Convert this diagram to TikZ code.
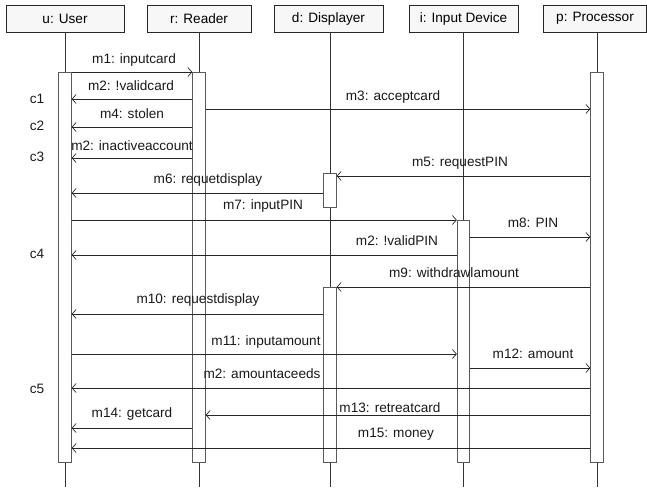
\documentclass[tikz,border=0pt]{standalone}
\usepackage{fontspec}
\setmainfont{Liberation Sans}
\usetikzlibrary{arrows.meta}
\begin{document}
\begin{tikzpicture}[x=1pt,y=-1pt,
  font=\fontsize{13.6pt}{16pt}\selectfont,
  head/.style={draw=black!85,fill=black!3,line width=0.8pt,minimum height=27pt,inner sep=0pt},
  act/.style={draw=black!65,fill=white,line width=0.8pt,minimum width=12.5pt,inner sep=0pt},
  life/.style={draw=black!80,line width=0.8pt},
  msg/.style={draw=black!85,line width=0.7pt,-{Straight Barb[length=4pt,width=9pt,line width=0.7pt]}},
  lbl/.style={inner sep=0pt,text=black!90},
  cnd/.style={inner sep=0pt,text=black!90}]
\useasboundingbox (0,0) rectangle (647,487);
% headers
\node[head,minimum width=118pt] (hu) at (65,18.5) {u: User};
\node[head,minimum width=104pt] (hr) at (199,18.5) {r: Reader};
\node[head,minimum width=109pt] (hd) at (328.5,18.5) {d: Displayer};
\node[head,minimum width=109pt] (hi) at (463.5,18.5) {i: Input Device};
\node[head,minimum width=103pt] (hp) at (595,18.5) {p: Processor};
% lifeline bottom ends
\coordinate (eu) at (65,487);
\coordinate (er) at (199,487);
\coordinate (ed) at (330,487);
\coordinate (ei) at (463.5,487);
\coordinate (ep) at (597,487);
\draw[life] (hu.south -| eu) -- (eu);
\draw[life] (hr.south -| er) -- (er);
\draw[life] (hd.south -| ed) -- (ed);
\draw[life] (hi.south -| ei) -- (ei);
\draw[life] (hp.south -| ep) -- (ep);
% activations
\node[act,minimum height=390pt] (au) at (65,267) {};
\node[act,minimum height=390pt] (ar) at (199,267) {};
\node[act,minimum height=390pt] (ap) at (597,267) {};
\node[act,minimum height=34pt] (ad1) at (330,190) {};
\node[act,minimum height=175pt] (ad2) at (330,374.5) {};
\node[act,minimum height=242pt] (ai) at (463.5,341) {};
% conditions
\node[cnd] (c1) at (37,99) {c1};
\node[cnd] (c2) at (37,126) {c2};
\node[cnd] (c3) at (37,157) {c3};
\node[cnd] (c4) at (37,254) {c4};
\node[cnd] (c5) at (37,389) {c5};
% messages
\draw[msg] (au.east |- 0,72) -- (ar.west |- 0,72);
\node[lbl] (l1) at (134,60) {m1: inputcard};
\draw[msg] (ar.west |- 0,99) -- (au.east |- 0,99);
\node[lbl] (l2) at (131,86) {m2: !validcard};
\draw[msg] (ar.east |- 0,109) -- (ap.west |- 0,109);
\node[lbl] (l3) at (393,97) {m3: acceptcard};
\draw[msg] (ar.west |- 0,127) -- (au.east |- 0,127);
\node[lbl] (l4) at (132,114) {m4: stolen};
\draw[msg] (ar.west |- 0,158) -- (au.east |- 0,158);
\node[lbl] (l5) at (132,146) {m2: inactiveaccount};
\draw[msg] (ap.west |- 0,176) -- (ad1.east |- 0,176);
\node[lbl] (l6) at (460,163) {m5: requestPIN};
\draw[msg] (ad1.west |- 0,193) -- (au.east |- 0,193);
\node[lbl] (l7) at (208,180) {m6: requetdisplay};
\draw[msg] (au.east |- 0,220) -- (ai.west |- 0,220);
\node[lbl] (l8) at (263,206) {m7: inputPIN};
\draw[msg] (ai.east |- 0,237) -- (ap.west |- 0,237);
\node[lbl] (l9) at (533,223) {m8: PIN};
\draw[msg] (ai.west |- 0,255) -- (au.east |- 0,255);
\node[lbl] (l10) at (397,241) {m2: !validPIN};
\draw[msg] (ap.west |- 0,287) -- (ad2.east |- 0,287);
\node[lbl] (l11) at (454,273) {m9: withdrawlamount};
\draw[msg] (ad2.west |- 0,314) -- (au.east |- 0,314);
\node[lbl] (l12) at (198,300) {m10: requestdisplay};
\draw[msg] (au.east |- 0,354) -- (ai.west |- 0,354);
\node[lbl] (l13) at (266,342) {m11: inputamount};
\draw[msg] (ai.east |- 0,368) -- (ap.west |- 0,368);
\node[lbl] (l14) at (533,354) {m12: amount};
\draw[msg] (ap.west |- 0,388) -- (au.east |- 0,388);
\node[lbl] (l15) at (262,374) {m2: amountaceeds};
\draw[msg] (ap.west |- 0,415) -- (ar.east |- 0,415);
\node[lbl] (l16) at (390,408) {m13: retreatcard};
\draw[msg] (ar.west |- 0,428) -- (au.east |- 0,428);
\node[lbl] (l17) at (132,414) {m14: getcard};
\draw[msg] (ap.west |- 0,448) -- (au.east |- 0,448);
\node[lbl] (l18) at (396,434) {m15: money};
\end{tikzpicture}
\end{document}
